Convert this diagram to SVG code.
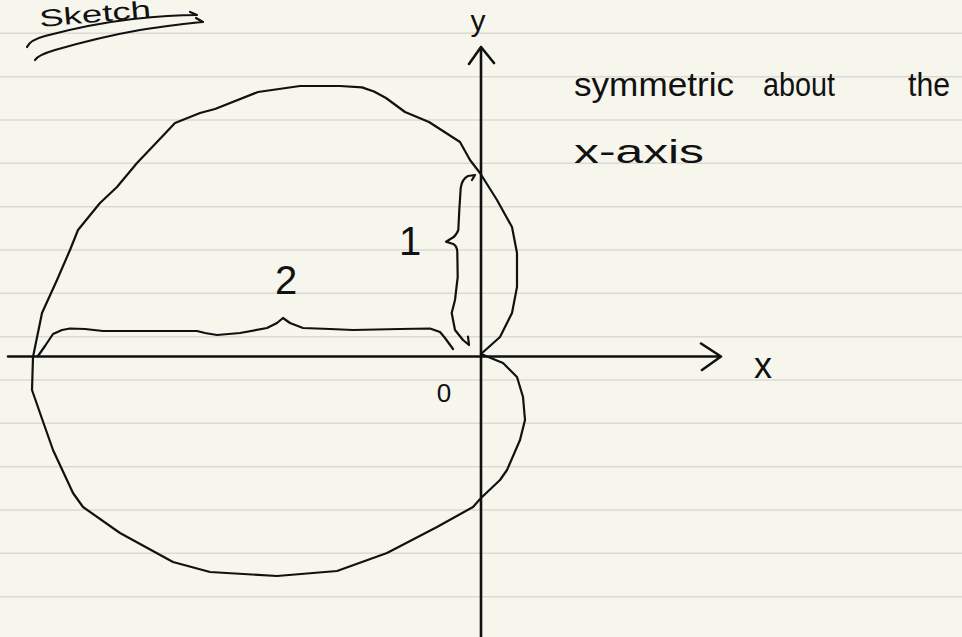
<svg xmlns="http://www.w3.org/2000/svg" width="962" height="637" viewBox="0 0 962 637">
<defs>
<style>
.rule{stroke:#dadad5;stroke-width:1.6}
.ink{fill:none;stroke:#111;stroke-width:2.2;stroke-linecap:round;stroke-linejoin:round}
.axis{fill:none;stroke:#111;stroke-width:2.6;stroke-linecap:round;stroke-linejoin:round}
.hw{font-family:"Liberation Sans","DejaVu Sans",sans-serif;fill:#111}
</style>
</defs>
<rect width="962" height="637" fill="#f7f6ec"/>
<g id="paper-lines">
<line class="rule" x1="0" y1="33.3" x2="962" y2="33.3"/>
<line class="rule" x1="0" y1="76.7" x2="962" y2="76.7"/>
<line class="rule" x1="0" y1="120" x2="962" y2="120"/>
<line class="rule" x1="0" y1="163.3" x2="962" y2="163.3"/>
<line class="rule" x1="0" y1="206.7" x2="962" y2="206.7"/>
<line class="rule" x1="0" y1="250" x2="962" y2="250"/>
<line class="rule" x1="0" y1="293.3" x2="962" y2="293.3"/>
<line class="rule" x1="0" y1="336.7" x2="962" y2="336.7"/>
<line class="rule" x1="0" y1="380" x2="962" y2="380"/>
<line class="rule" x1="0" y1="423.3" x2="962" y2="423.3"/>
<line class="rule" x1="0" y1="466.7" x2="962" y2="466.7"/>
<line class="rule" x1="0" y1="510" x2="962" y2="510"/>
<line class="rule" x1="0" y1="553.3" x2="962" y2="553.3"/>
<line class="rule" x1="0" y1="596.7" x2="962" y2="596.7"/>
</g>
<g id="title">
<text class="hw" x="40" y="27" font-size="24" textLength="112" lengthAdjust="spacingAndGlyphs" transform="rotate(-5 40 27)">Sketch</text>
<path class="ink" d="M27,47 Q30,40 45,36 Q90,24 133,19 Q170,15 197,15 L190,12"/>
<path class="ink" d="M35,60 Q38,55 55,50 Q100,37 140,30 Q180,24 203,22 L196,18"/>
</g>
<g id="note">
<text class="hw" x="574" y="96" font-size="33" textLength="160" lengthAdjust="spacingAndGlyphs">symmetric</text>
<text class="hw" x="763" y="96" font-size="33" textLength="72" lengthAdjust="spacingAndGlyphs">about</text>
<text class="hw" x="908" y="96" font-size="33" textLength="42" lengthAdjust="spacingAndGlyphs">the</text>
<text class="hw" x="574" y="163" font-size="33" textLength="130" lengthAdjust="spacingAndGlyphs">x-axis</text>
</g>
<g id="axes">
<g id="x-axis">
<path class="axis" d="M8,356.5 L721,356.5 M701,343.5 L721,356.5 L702,370"/>
<text class="hw" x="763" y="378" font-size="36" text-anchor="middle">x</text>
</g>
<g id="y-axis">
<path class="axis" d="M481,637 L481,47 M469,64 L481,47 L494,63"/>
<text class="hw" x="478" y="31" font-size="30" text-anchor="middle">y</text>
</g>
<g id="origin">
<text class="hw" x="444" y="402" font-size="26" text-anchor="middle">0</text>
</g>
</g>
<g id="cardioid">
<path class="ink" d="M481,354 L500,337 L512,313 L517,287 L517,253 L512,227 L497,200 L480,173 L470,160 L460,142 L429,122 L405,112 L386,98 L374,91.5 L362,87.4 L340,86 L300,86 L258,92 L215,109 L200,113 L175,123 L157,142 L137,163 L117,187 L100,203 L78,230 L70,250 L57,280 L42,313 L33,357 L32,390 L40,413 L53,450 L73,493 L83,507 L120,533 L173,562 L210,572 L277,576 L337,571 L387,553 L437,527 L473,507 L481,498 L500,480 L507,470 L520,440 L525,420 L523,397 L517,377 L503,363 L481,354"/>
</g>
<g id="brace-1">
<path class="ink" d="M472,180 L475,175 L468,176 Q462,179 460.7,188 L459.3,210 L458.3,230 Q456,236 451.7,238.3 L446,241.7 L453.3,244 Q457,246 457.3,252 L457.7,277 L455,300 L451.7,313 L455,330 L463,340 L469,345 M468,336.7 L469,345"/>
<text class="hw" x="410" y="255" font-size="40" text-anchor="middle">1</text>
</g>
<g id="brace-2">
<path class="ink" d="M38,356 L45,346 L53,334 L62,330 L70,328.5 L85,329 L103,331 L150,331 L197,331 L205,333 L217,335 L240,333 L267,328 L277,323 L283,318 L290,323 L303,328 L330,329 L353,330 L400,329 L430,328.5 L440,332 L445,338 L453,349"/>
<text class="hw" x="286" y="294" font-size="40" text-anchor="middle">2</text>
</g>
</svg>
